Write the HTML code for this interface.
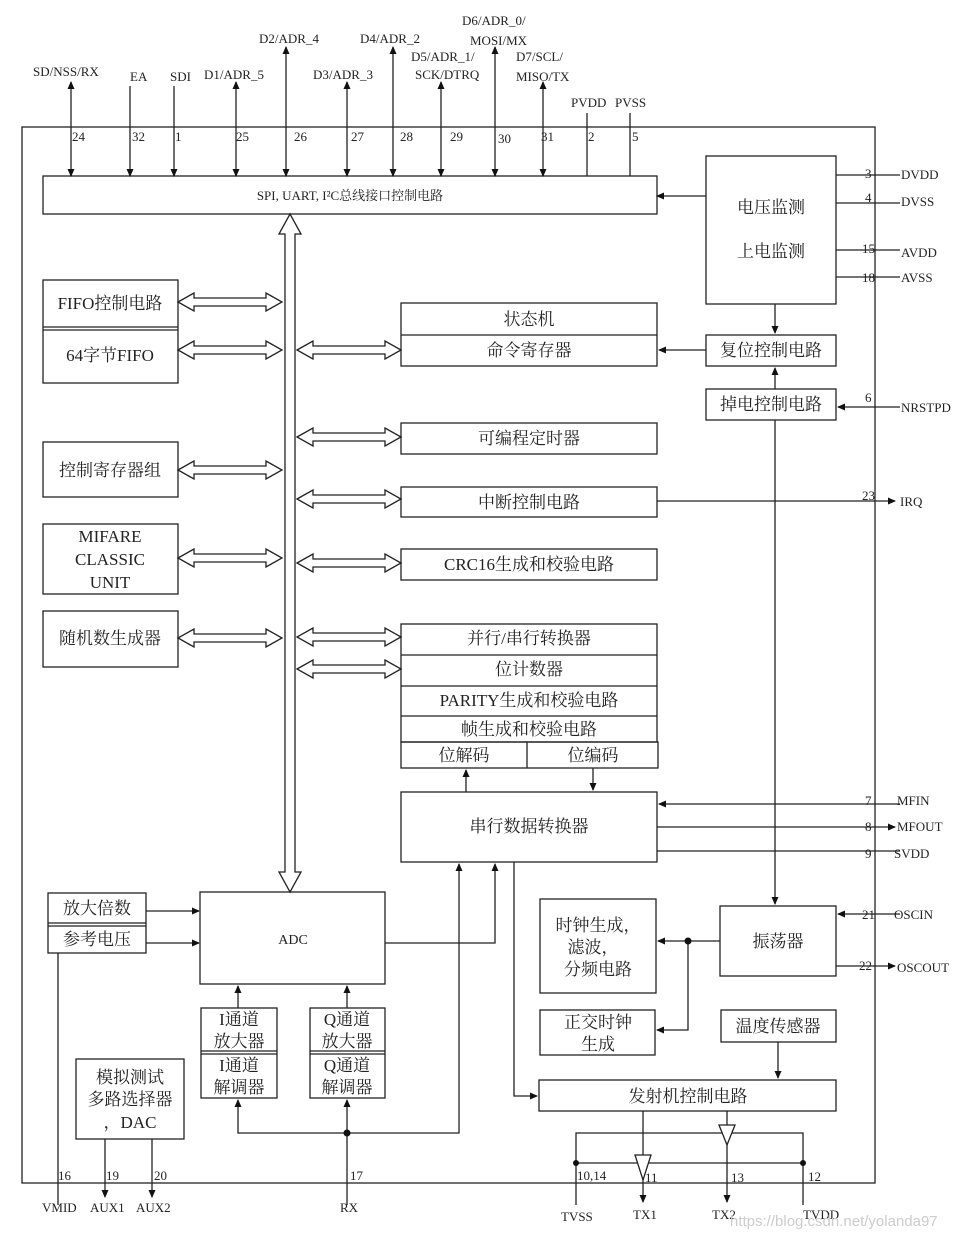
<!DOCTYPE html>
<html><head><meta charset="utf-8"><style>
html,body{margin:0;padding:0;background:#fff;}
svg{display:block;}
text{font-family:"Liberation Serif","Noto Serif CJK SC",serif;fill:#222;}
.c{font-size:17px;text-anchor:middle;}
.l{font-size:13px;}
.n{font-size:13px;}
</style></head><body>
<svg width="959" height="1239" viewBox="0 0 959 1239" xmlns="http://www.w3.org/2000/svg">
<defs>
<marker id="a" markerWidth="8" markerHeight="8" refX="7" refY="4" orient="auto-start-reverse" markerUnits="userSpaceOnUse"><path d="M0,0.5 L8,4 L0,7.5z" fill="#111"/></marker>
</defs>
<g stroke="#222" stroke-width="1.3" fill="none">
<rect x="22" y="127" width="853" height="1056"/>
<rect x="43" y="176" width="614" height="38"/>
<rect x="706" y="156" width="130" height="148"/>
<!-- top pins -->
<line x1="71" y1="82" x2="71" y2="176" marker-start="url(#a)" marker-end="url(#a)"/>
<line x1="130" y1="86" x2="130" y2="176" marker-end="url(#a)"/>
<line x1="174" y1="86" x2="174" y2="176" marker-end="url(#a)"/>
<line x1="236" y1="82" x2="236" y2="176" marker-start="url(#a)" marker-end="url(#a)"/>
<line x1="286" y1="47" x2="286" y2="176" marker-start="url(#a)" marker-end="url(#a)"/>
<line x1="347" y1="82" x2="347" y2="176" marker-start="url(#a)" marker-end="url(#a)"/>
<line x1="393" y1="47" x2="393" y2="176" marker-start="url(#a)" marker-end="url(#a)"/>
<line x1="441" y1="82" x2="441" y2="176" marker-start="url(#a)" marker-end="url(#a)"/>
<line x1="495" y1="47" x2="495" y2="176" marker-start="url(#a)" marker-end="url(#a)"/>
<line x1="543" y1="82" x2="543" y2="176" marker-start="url(#a)" marker-end="url(#a)"/>
<line x1="587" y1="113" x2="587" y2="176"/>
<line x1="630" y1="113" x2="630" y2="176"/>
<!-- right pins top -->
<line x1="836" y1="175" x2="900" y2="175"/>
<line x1="836" y1="203" x2="900" y2="203"/>
<line x1="836" y1="250" x2="900" y2="250"/>
<line x1="836" y1="277" x2="900" y2="277"/>
<line x1="706" y1="196" x2="657" y2="196" marker-end="url(#a)"/>
<!-- left boxes -->
<rect x="43" y="280" width="135" height="103"/>
<line x1="43" y1="327" x2="178" y2="327"/><line x1="43" y1="330" x2="178" y2="330"/>
<rect x="43" y="442" width="135" height="55"/>
<rect x="43" y="524" width="135" height="70"/>
<rect x="43" y="611" width="135" height="56"/>
<!-- middle boxes -->
<rect x="401" y="303" width="256" height="63"/><line x1="401" y1="335" x2="657" y2="335"/>
<rect x="401" y="423" width="256" height="31"/>
<rect x="401" y="487" width="256" height="30"/>
<rect x="401" y="549" width="256" height="31"/>
<rect x="401" y="624" width="256" height="118"/>
<line x1="401" y1="655" x2="657" y2="655"/><line x1="401" y1="686" x2="657" y2="686"/><line x1="401" y1="716" x2="657" y2="716"/>
<rect x="401" y="742" width="257" height="26"/><line x1="527" y1="742" x2="527" y2="768"/>
<rect x="401" y="792" width="256" height="70"/>
<line x1="466" y1="792" x2="466" y2="770" marker-end="url(#a)"/>
<line x1="593" y1="768" x2="593" y2="790" marker-end="url(#a)"/>
<!-- reset/power -->
<rect x="706" y="335" width="130" height="31"/>
<rect x="706" y="389" width="130" height="31"/>
<line x1="775" y1="304" x2="775" y2="333" marker-end="url(#a)"/>
<line x1="775" y1="389" x2="775" y2="368" marker-end="url(#a)"/>
<line x1="706" y1="350" x2="659" y2="350" marker-end="url(#a)"/>
<line x1="900" y1="407" x2="838" y2="407" marker-end="url(#a)"/>
<line x1="775" y1="420" x2="775" y2="904" marker-end="url(#a)"/>
<line x1="657" y1="501" x2="895" y2="501" marker-end="url(#a)"/>
<line x1="900" y1="804" x2="659" y2="804" marker-end="url(#a)"/>
<line x1="657" y1="827" x2="895" y2="827" marker-end="url(#a)"/>
<line x1="657" y1="851" x2="900" y2="851"/>
<!-- ADC area -->
<rect x="48" y="893" width="98" height="60"/><line x1="48" y1="923" x2="146" y2="923"/><line x1="48" y1="926" x2="146" y2="926"/>
<line x1="146" y1="911" x2="199" y2="911" marker-end="url(#a)"/>
<line x1="146" y1="943" x2="199" y2="943" marker-end="url(#a)"/>
<rect x="200" y="892" width="185" height="92"/>
<rect x="201" y="1008" width="76" height="90"/><line x1="201" y1="1051" x2="277" y2="1051"/><line x1="201" y1="1054" x2="277" y2="1054"/>
<rect x="310" y="1008" width="75" height="90"/><line x1="310" y1="1051" x2="385" y2="1051"/><line x1="310" y1="1054" x2="385" y2="1054"/>
<line x1="238" y1="1008" x2="238" y2="986" marker-end="url(#a)"/>
<line x1="347" y1="1008" x2="347" y2="986" marker-end="url(#a)"/>
<polyline points="385,943 495,943 495,864" marker-end="url(#a)"/>
<polyline points="238,1100 238,1133 459,1133 459,864" marker-start="url(#a)" marker-end="url(#a)"/>
<line x1="347" y1="1205" x2="347" y2="1100" marker-end="url(#a)"/>
<line x1="58" y1="953" x2="58" y2="1205"/>
<rect x="76" y="1059" width="108" height="80"/>
<line x1="105" y1="1139" x2="105" y2="1197" marker-end="url(#a)"/>
<line x1="152" y1="1139" x2="152" y2="1197" marker-end="url(#a)"/>
<!-- right bottom -->
<polyline points="514,862 514,1096 537,1096" marker-end="url(#a)"/>
<rect x="540" y="899" width="116" height="94"/>
<rect x="720" y="906" width="116" height="70"/>
<line x1="720" y1="941" x2="658" y2="941" marker-end="url(#a)"/>
<polyline points="688,941 688,1030 657,1030" marker-end="url(#a)"/>
<rect x="540" y="1010" width="115" height="45"/>
<rect x="721" y="1010" width="115" height="32"/>
<line x1="778" y1="1042" x2="778" y2="1078" marker-end="url(#a)"/>
<rect x="539" y="1080" width="297" height="31"/>
<line x1="900" y1="914" x2="838" y2="914" marker-end="url(#a)"/>
<line x1="836" y1="966" x2="895" y2="966" marker-end="url(#a)"/>
<polyline points="576,1205 576,1133 803,1133 803,1205"/>
<line x1="576" y1="1163" x2="803" y2="1163"/>
<line x1="643" y1="1111" x2="643" y2="1202" marker-end="url(#a)"/>
<line x1="727" y1="1111" x2="727" y2="1202" marker-end="url(#a)"/>
<polygon points="635,1155 651,1155 643,1180" fill="#fff"/>
<polygon points="719,1125 735,1125 727,1145" fill="#fff"/>
<!-- hollow arrows -->
<polygon points="290,214 279,234 285,234 285,872 279,872 290,892 301,872 295,872 295,234 301,234" fill="#fff"/>
<polygon points="178,302 194,293 194,298 266,298 266,293 282,302 266,311 266,306 194,306 194,311"/>
<polygon points="178,350 194,341 194,346 266,346 266,341 282,350 266,359 266,354 194,354 194,359"/>
<polygon points="178,470 194,461 194,466 266,466 266,461 282,470 266,479 266,474 194,474 194,479"/>
<polygon points="178,558 194,549 194,554 266,554 266,549 282,558 266,567 266,562 194,562 194,567"/>
<polygon points="178,638 194,629 194,634 266,634 266,629 282,638 266,647 266,642 194,642 194,647"/>
<polygon points="297,350 313,341 313,346 385,346 385,341 401,350 385,359 385,354 313,354 313,359"/>
<polygon points="297,437 313,428 313,433 385,433 385,428 401,437 385,446 385,441 313,441 313,446"/>
<polygon points="297,499 313,490 313,495 385,495 385,490 401,499 385,508 385,503 313,503 313,508"/>
<polygon points="297,563 313,554 313,559 385,559 385,554 401,563 385,572 385,567 313,567 313,572"/>
<polygon points="297,637 313,628 313,633 385,633 385,628 401,637 385,646 385,641 313,641 313,646"/>
<polygon points="297,669 313,660 313,665 385,665 385,660 401,669 385,678 385,673 313,673 313,678"/>
</g>
<g fill="#111">
<circle cx="688" cy="941" r="3.5"/><circle cx="347" cy="1133" r="3.5"/>
<circle cx="576" cy="1163" r="3"/><circle cx="803" cy="1163" r="3"/>
</g>
<!-- top labels -->
<g class="l">
<text x="33" y="76">SD/NSS/RX</text><text x="130" y="81">EA</text><text x="170" y="81">SDI</text>
<text x="204" y="79">D1/ADR_5</text><text x="259" y="43">D2/ADR_4</text><text x="313" y="79">D3/ADR_3</text>
<text x="360" y="43">D4/ADR_2</text><text x="411" y="61">D5/ADR_1/</text><text x="415" y="79">SCK/DTRQ</text>
<text x="462" y="25">D6/ADR_0/</text><text x="470" y="45">MOSI/MX</text><text x="516" y="61">D7/SCL/</text><text x="516" y="81">MISO/TX</text>
<text x="571" y="107">PVDD</text><text x="615" y="107">PVSS</text>
<text x="72" y="141">24</text><text x="132" y="141">32</text><text x="175" y="141">1</text><text x="236" y="141">25</text>
<text x="294" y="141">26</text><text x="351" y="141">27</text><text x="400" y="141">28</text><text x="450" y="141">29</text>
<text x="498" y="143">30</text><text x="541" y="141">31</text><text x="588" y="141">2</text><text x="632" y="141">5</text>
<text x="865" y="178">3</text><text x="901" y="179">DVDD</text>
<text x="865" y="202">4</text><text x="901" y="206">DVSS</text>
<text x="862" y="253">15</text><text x="901" y="257">AVDD</text>
<text x="862" y="282">18</text><text x="901" y="282">AVSS</text>
<text x="865" y="402">6</text><text x="901" y="412">NRSTPD</text>
<text x="862" y="500">23</text><text x="900" y="506">IRQ</text>
<text x="865" y="805">7</text><text x="897" y="805">MFIN</text>
<text x="865" y="831">8</text><text x="897" y="831">MFOUT</text>
<text x="865" y="858">9</text><text x="894" y="858">SVDD</text>
<text x="862" y="919">21</text><text x="894" y="919">OSCIN</text>
<text x="859" y="970">22</text><text x="897" y="972">OSCOUT</text>
<text x="58" y="1180">16</text><text x="106" y="1180">19</text><text x="154" y="1180">20</text><text x="350" y="1180">17</text>
<text x="577" y="1180">10,14</text><text x="645" y="1182">11</text><text x="731" y="1182">13</text><text x="808" y="1181">12</text>
<text x="42" y="1212">VMID</text><text x="90" y="1212">AUX1</text><text x="136" y="1212">AUX2</text><text x="340" y="1212">RX</text>
<text x="561" y="1221">TVSS</text><text x="633" y="1219">TX1</text><text x="712" y="1219">TX2</text><text x="803" y="1219">TVDD</text>
</g>
<text x="350" y="200" class="c" style="font-size:13px">SPI, UART, I²C总线接口控制电路</text>
<g class="c">
<text x="771" y="213">电压监测</text><text x="771" y="257">上电监测</text>
<text x="110" y="309">FIFO控制电路</text><text x="110" y="361">64字节FIFO</text>
<text x="110" y="476">控制寄存器组</text>
<text x="110" y="542">MIFARE</text><text x="110" y="565">CLASSIC</text><text x="110" y="588">UNIT</text>
<text x="110" y="644">随机数生成器</text>
<text x="529" y="325">状态机</text><text x="529" y="356">命令寄存器</text>
<text x="529" y="444">可编程定时器</text><text x="529" y="508">中断控制电路</text><text x="529" y="570">CRC16生成和校验电路</text>
<text x="529" y="644">并行/串行转换器</text><text x="529" y="675">位计数器</text><text x="529" y="706">PARITY生成和校验电路</text>
<text x="529" y="735">帧生成和校验电路</text><text x="464" y="761">位解码</text><text x="593" y="761">位编码</text>
<text x="529" y="832">串行数据转换器</text>
<text x="771" y="356">复位控制电路</text><text x="771" y="410">掉电控制电路</text>
<text x="97" y="914">放大倍数</text><text x="97" y="945">参考电压</text>
<text x="293" y="944" style="font-size:14px">ADC</text>
<text x="239" y="1025">I通道</text><text x="239" y="1047">放大器</text><text x="239" y="1071">I通道</text><text x="239" y="1093">解调器</text>
<text x="347" y="1025">Q通道</text><text x="347" y="1047">放大器</text><text x="347" y="1071">Q通道</text><text x="347" y="1093">解调器</text>
<text x="130" y="1083">模拟测试</text><text x="130" y="1105">多路选择器</text><text x="130" y="1128">，DAC</text>
<text x="598" y="931">时钟生成，</text><text x="593" y="953">滤波，</text><text x="598" y="975">分频电路</text>
<text x="598" y="1028">正交时钟</text><text x="598" y="1050">生成</text>
<text x="778" y="947">振荡器</text><text x="778" y="1032">温度传感器</text>
<text x="688" y="1102">发射机控制电路</text>
</g>
<text x="730" y="1226" style="font-family:'Liberation Sans',sans-serif;font-size:15px;fill:#ccc">https://blog.csdn.net/yolanda97</text>
</svg>
</body></html>
